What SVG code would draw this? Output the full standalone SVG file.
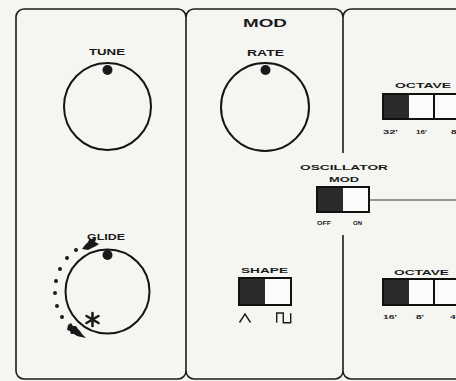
<svg xmlns="http://www.w3.org/2000/svg" width="456" height="381" viewBox="0 0 456 381">
  <style>
    .frame { fill: none; stroke: #1c1c1c; stroke-width: 1.6; }
    .knob { fill: none; stroke: #151515; stroke-width: 2; }
    .dot { fill: #1a1a1a; }
    .lbl { font-family: "Liberation Sans", Arial, sans-serif; font-weight: bold; fill: #1a1a1a; text-anchor: middle; }
    .sw { fill: #fbfbf9; stroke: #111; stroke-width: 2; }
    .swd { fill: #2b2b2b; }
    .glyph { fill: none; stroke: #1a1a1a; stroke-width: 1.4; }
  </style>
  <rect width="456" height="381" fill="#f5f5f2"/>

  <g id="panel-frames">
    <rect class="frame" x="16" y="9" width="170" height="370" rx="8" ry="8"/>
    <path class="frame" d="M186,17 A8,8 0 0 1 194,9 H335 A8,8 0 0 1 343,17 A8,8 0 0 1 351,9 H456"/>
    <path class="frame" d="M343,17 V153 M343,235 V371 A8,8 0 0 1 335,379 H194 A8,8 0 0 1 186,371 M343,371 A8,8 0 0 0 351,379 H456"/>
  </g>

  <g id="tune-knob">
    <text class="lbl" x="107" y="55" font-size="8.3" textLength="36" lengthAdjust="spacingAndGlyphs">TUNE</text>
    <circle class="knob" cx="107.5" cy="106.5" r="43.5"/>
    <circle class="dot" cx="107.5" cy="70" r="5"/>
  </g>

  <g id="glide-knob">
    <text class="lbl" x="106" y="239.5" font-size="8.3" textLength="38" lengthAdjust="spacingAndGlyphs">GLIDE</text>
    <circle class="knob" cx="107.5" cy="291.5" r="42"/>
    <circle class="dot" cx="107.5" cy="255" r="5"/>
    <g class="dot">
      <circle cx="76" cy="250" r="2"/>
      <circle cx="67" cy="258" r="2"/>
      <circle cx="60" cy="269" r="2"/>
      <circle cx="56" cy="281" r="2"/>
      <circle cx="55" cy="293" r="2"/>
      <circle cx="57" cy="306" r="2"/>
      <circle cx="62" cy="317" r="2"/>
    </g>
    <path class="dot" d="M82,249 L85,245 L88,242 L90,238 L92,240 L94,237 L96,239 L95,242 L99,244 L96,246 L92,248 L88,250 Z"/>
    <path class="dot" d="M68,325 L71,323 L73,326 L76,326 L78,329 L80,331 L82,334 L86,338 L81,337 L77,336 L74,334 L71,334 L70,331 L67,330 Z"/>
    <g stroke="#1a1a1a" stroke-width="2.6" stroke-linecap="round">
      <line x1="92.5" y1="313" x2="92.5" y2="326"/>
      <line x1="86.5" y1="316" x2="98.5" y2="323"/>
      <line x1="86.5" y1="323" x2="98.5" y2="316"/>
    </g>
  </g>

  <g id="mod-title">
    <text class="lbl" x="265" y="27" font-size="11" textLength="44" lengthAdjust="spacingAndGlyphs">MOD</text>
  </g>

  <g id="rate-knob">
    <text class="lbl" x="265.5" y="55.5" font-size="8.3" textLength="37" lengthAdjust="spacingAndGlyphs">RATE</text>
    <circle class="knob" cx="265" cy="107" r="44"/>
    <circle class="dot" cx="265.5" cy="70" r="5"/>
  </g>

  <g id="shape-switch">
    <text class="lbl" x="264.5" y="272.5" font-size="8" textLength="47" lengthAdjust="spacingAndGlyphs">SHAPE</text>
    <rect class="sw" x="239" y="278" width="52" height="27"/>
    <rect class="swd" x="239" y="278" width="26" height="27"/>
    <rect x="239" y="278" width="52" height="27" fill="none" stroke="#111" stroke-width="2"/>
    <path class="glyph" d="M239.5,322.5 L245,314 L250.5,322.5"/>
    <path class="glyph" d="M276.7,322.7 V313 H283.3 V322.7 H290.7 V313.3"/>
  </g>

  <g id="osc-mod-switch">
    <text class="lbl" x="344" y="170" font-size="7.5" textLength="88" lengthAdjust="spacingAndGlyphs">OSCILLATOR</text>
    <text class="lbl" x="344" y="182" font-size="7.5" textLength="30" lengthAdjust="spacingAndGlyphs">MOD</text>
    <rect class="sw" x="317" y="187" width="52" height="25"/>
    <rect class="swd" x="317" y="187" width="26" height="25"/>
    <rect x="317" y="187" width="52" height="25" fill="none" stroke="#111" stroke-width="2"/>
    <text class="lbl" x="324" y="224.5" font-size="6" textLength="14" lengthAdjust="spacingAndGlyphs">OFF</text>
    <text class="lbl" x="357.5" y="224.5" font-size="6" textLength="9" lengthAdjust="spacingAndGlyphs">ON</text>
  </g>

  <g id="octave-top">
    <text class="lbl" x="423" y="87.5" font-size="7.5" textLength="56" lengthAdjust="spacingAndGlyphs">OCTAVE</text>
    <rect class="sw" x="383" y="94" width="80" height="25"/>
    <rect class="swd" x="383" y="94" width="26" height="25"/>
    <rect x="383" y="94" width="80" height="25" fill="none" stroke="#111" stroke-width="2"/>
    <line x1="434" y1="94" x2="434" y2="119" stroke="#111" stroke-width="2"/>
    <text class="lbl" x="390.5" y="134" font-size="6" textLength="15" lengthAdjust="spacingAndGlyphs">32'</text>
    <text class="lbl" x="421.5" y="134" font-size="6" textLength="11" lengthAdjust="spacingAndGlyphs">16'</text>
    <text class="lbl" x="455" y="134" font-size="6" textLength="8" lengthAdjust="spacingAndGlyphs">8'</text>
  </g>

  <g id="octave-bottom">
    <text class="lbl" x="421.5" y="274.5" font-size="7.5" textLength="55" lengthAdjust="spacingAndGlyphs">OCTAVE</text>
    <rect class="sw" x="383" y="279" width="80" height="26"/>
    <rect class="swd" x="383" y="279" width="26" height="26"/>
    <rect x="383" y="279" width="80" height="26" fill="none" stroke="#111" stroke-width="2"/>
    <line x1="434" y1="279" x2="434" y2="305" stroke="#111" stroke-width="2"/>
    <text class="lbl" x="390" y="318.5" font-size="6" textLength="14" lengthAdjust="spacingAndGlyphs">16'</text>
    <text class="lbl" x="420" y="318.5" font-size="6" textLength="8" lengthAdjust="spacingAndGlyphs">8'</text>
    <text class="lbl" x="454" y="318.5" font-size="6" textLength="8" lengthAdjust="spacingAndGlyphs">4'</text>
  </g>

  <g id="connectors">
    <line x1="369" y1="200" x2="456" y2="200" stroke="#333" stroke-width="1.2"/>
  </g>
</svg>
